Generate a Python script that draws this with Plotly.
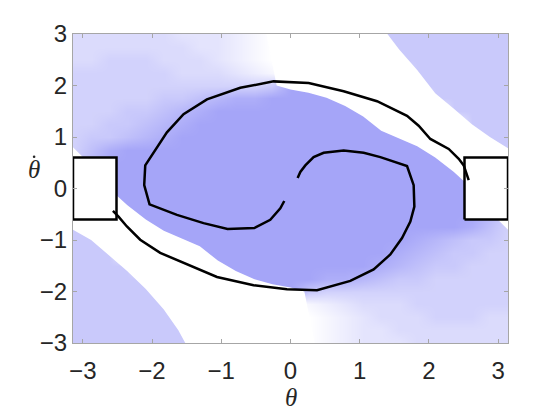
import numpy as np
import plotly.graph_objects as go

# grid of the shaded background (theta columns, theta-dot rows, top to bottom)
theta_grid = [-np.pi + k * 2 * np.pi / 24 for k in range(25)]
omega_grid = [3.0 - j * 0.25 for j in range(25)]

# shading level, 0 = white, 10 = full blue
shade = [
    [4, 4, 4, 4, 4, 4, 3, 3, 3, 2, 1, 0, 0, 0, 0, 0, 0, 6, 6, 6, 6, 6, 6, 6, 6],
    [4, 4, 4, 4, 4, 4, 4, 3, 3, 2, 1, 0, 0, 0, 0, 0, 0, 6, 6, 6, 6, 6, 6, 6, 6],
    [4, 4, 5, 5, 5, 4, 4, 4, 3, 2, 1, 0, 0, 0, 0, 0, 0, 0, 6, 6, 6, 6, 6, 6, 6],
    [5, 5, 5, 5, 5, 5, 4, 4, 4, 3, 2, 1, 0, 0, 0, 0, 0, 0, 2, 6, 6, 6, 6, 6, 6],
    [5, 5, 5, 5, 5, 5, 5, 5, 5, 5, 5, 6, 10, 10, 10, 10, 0, 0, 0, 6, 6, 6, 6, 6, 6],
    [5, 5, 5, 5, 5, 6, 6, 7, 8, 9, 9, 10, 10, 10, 10, 10, 10, 0, 0, 0, 6, 6, 6, 6, 6],
    [5, 5, 5, 6, 6, 7, 8, 9, 10, 10, 10, 10, 10, 10, 10, 10, 10, 10, 0, 0, 0, 6, 6, 6, 6],
    [5, 5, 6, 6, 7, 8, 9, 10, 10, 10, 10, 10, 10, 10, 10, 10, 10, 10, 10, 10, 0, 0, 6, 6, 6],
    [5, 6, 6, 7, 8, 9, 10, 10, 10, 10, 10, 10, 10, 10, 10, 10, 10, 10, 10, 10, 10, 0, 6, 6, 6],
    [5, 7, 9, 10, 10, 10, 10, 10, 10, 10, 10, 10, 10, 10, 10, 10, 10, 10, 10, 10, 10, 10, 0, 6, 6],
    [5, 8, 10, 10, 10, 10, 10, 10, 10, 10, 10, 10, 10, 10, 10, 10, 10, 10, 10, 10, 10, 10, 10, 0, 6],
    [0, 10, 10, 10, 10, 10, 10, 10, 10, 10, 10, 10, 10, 10, 10, 10, 10, 10, 10, 10, 10, 10, 10, 0, 0],
    [0, 0, 10, 10, 10, 10, 10, 10, 10, 10, 10, 10, 10, 10, 10, 10, 10, 10, 10, 10, 10, 10, 10, 0, 0],
    [0, 0, 10, 10, 10, 10, 10, 10, 10, 10, 10, 10, 10, 10, 10, 10, 10, 10, 10, 10, 10, 10, 10, 10, 0],
    [6, 0, 10, 10, 10, 10, 10, 10, 10, 10, 10, 10, 10, 10, 10, 10, 10, 10, 10, 10, 10, 10, 10, 8, 5],
    [6, 6, 0, 10, 10, 10, 10, 10, 10, 10, 10, 10, 10, 10, 10, 10, 10, 10, 10, 10, 10, 10, 9, 7, 5],
    [6, 6, 6, 0, 10, 10, 10, 10, 10, 10, 10, 10, 10, 10, 10, 10, 10, 10, 10, 9, 8, 7, 6, 6, 5],
    [6, 6, 6, 0, 0, 10, 10, 10, 10, 10, 10, 10, 10, 10, 10, 10, 10, 10, 9, 8, 7, 6, 6, 5, 5],
    [6, 6, 6, 6, 0, 0, 0, 10, 10, 10, 10, 10, 10, 10, 10, 10, 10, 9, 8, 7, 6, 6, 5, 5, 5],
    [6, 6, 6, 6, 6, 0, 0, 0, 10, 10, 10, 10, 10, 10, 9, 9, 8, 7, 6, 6, 5, 5, 5, 5, 5],
    [6, 6, 6, 6, 6, 6, 0, 0, 0, 10, 10, 10, 10, 6, 5, 5, 5, 5, 5, 5, 5, 5, 5, 5, 5],
    [6, 6, 6, 6, 6, 6, 2, 0, 0, 0, 0, 0, 0, 1, 2, 3, 4, 4, 4, 5, 5, 5, 5, 5, 5],
    [6, 6, 6, 6, 6, 6, 6, 0, 0, 0, 0, 0, 0, 0, 1, 2, 3, 4, 4, 4, 5, 5, 5, 4, 4],
    [6, 6, 6, 6, 6, 6, 6, 6, 0, 0, 0, 0, 0, 0, 1, 2, 3, 3, 4, 4, 4, 4, 4, 4, 4],
    [6, 6, 6, 6, 6, 6, 6, 6, 0, 0, 0, 0, 0, 0, 1, 2, 3, 3, 3, 4, 4, 4, 4, 4, 4],
]

# white bands (outlines)
upper_band_theta = [-0.35, -0.2, 0.0, 0.26, 0.52, 0.79, 1.05, 1.31, 1.57, 1.83, 2.09, 2.36,
                    2.62, 2.88, 3.1416, 3.1416, 2.88, 2.62, 2.36, 2.09, 1.83, 1.57, 1.40]
upper_band_omega = [3.0, 2.0, 1.92, 1.86, 1.76, 1.6, 1.4, 1.12, 0.97, 0.82, 0.6, 0.32,
                    0.0, -0.45, -0.8, 0.78, 1.0, 1.25, 1.55, 1.85, 2.3, 2.7, 3.0]
lower_band_theta = [0.35, 0.2, 0.0, -0.26, -0.52, -0.79, -1.05, -1.31, -1.57, -1.83, -2.09, -2.36,
                    -2.62, -2.88, -3.1416, -3.1416, -2.88, -2.62, -2.36, -2.09, -1.83, -1.62, -1.52]
lower_band_omega = [-3.0, -2.0, -1.92, -1.86, -1.76, -1.6, -1.4, -1.12, -0.97, -0.82, -0.6, -0.32,
                    0.0, 0.45, 0.8, -0.8, -1.0, -1.3, -1.6, -1.95, -2.35, -2.75, -3.0]

# trajectory leaving the right box
traj1_theta = [2.574, 2.502, 2.43, 2.285, 2.020, 1.851, 1.683, 1.25, 0.768, 0.262,
               -0.244, -0.725, -1.207, -1.545, -1.785, -1.954, -2.098, -2.113, -2.036,
               -1.640, -1.256, -0.909, -0.523, -0.292, -0.147, -0.090]
traj1_omega = [0.161, 0.449, 0.577, 0.769, 0.962, 1.218, 1.41, 1.695, 1.888, 2.048,
               2.08, 1.955, 1.731, 1.442, 1.09, 0.738, 0.449, 0.065, -0.307,
               -0.512, -0.673, -0.788, -0.769, -0.608, -0.385, -0.243]

# trajectory leaving the left box
traj2_theta = [-2.565, -2.484, -2.363, -2.171, -1.882, -1.496, -1.062, -0.533, -0.051,
               0.383, 0.864, 1.201, 1.442, 1.611, 1.731, 1.789, 1.779, 1.683, 1.298,
               1.057, 0.768, 0.479, 0.334, 0.214, 0.142, 0.103]
traj2_omega = [-0.436, -0.545, -0.737, -0.994, -1.250, -1.474, -1.718, -1.878, -1.955,
               -1.974, -1.795, -1.570, -1.282, -0.962, -0.641, -0.353, 0.065, 0.437, 0.609,
               0.693, 0.738, 0.693, 0.609, 0.449, 0.321, 0.205]

# goal boxes
left_box_theta = [-np.pi, -0.8 * np.pi, -0.8 * np.pi, -np.pi, -np.pi]
right_box_theta = [0.8 * np.pi, np.pi, np.pi, 0.8 * np.pi, 0.8 * np.pi]
box_omega = [-0.6, -0.6, 0.6, 0.6, -0.6]

tick_vals = [-3, -2, -1, 0, 1, 2, 3]

fig = go.Figure()

fig.add_trace(go.Heatmap(
    x=theta_grid, y=omega_grid, z=shade,
    zmin=0, zmax=10, zsmooth="best",
    colorscale=[[0, "rgb(255,255,255)"], [1, "rgb(165,165,248)"]],
    showscale=False, hoverinfo="skip",
))

for bx, by in ((upper_band_theta, upper_band_omega), (lower_band_theta, lower_band_omega)):
    fig.add_trace(go.Scatter(
        x=bx, y=by, mode="lines", fill="toself", fillcolor="white",
        line=dict(width=0, color="white"), showlegend=False, hoverinfo="skip",
    ))

for bx in (left_box_theta, right_box_theta):
    fig.add_trace(go.Scatter(
        x=bx, y=box_omega, mode="lines", fill="toself",
        fillcolor="white", line=dict(color="black", width=2.5),
        showlegend=False, hoverinfo="skip",
    ))

for tx, ty in ((traj1_theta, traj1_omega), (traj2_theta, traj2_omega)):
    fig.add_trace(go.Scatter(
        x=tx, y=ty, mode="lines", line=dict(color="black", width=2.5),
        showlegend=False,
    ))

axis_style = dict(
    showgrid=False, zeroline=False, showline=True, linecolor="#a6a6a6",
    linewidth=1, mirror="ticks", ticks="inside", ticklen=4, tickcolor="#a6a6a6",
    tickvals=tick_vals, tickfont=dict(family="Liberation Sans", size=24, color="#262626"),
)

fig.update_xaxes(range=[-np.pi, np.pi], ticklabelstandoff=6, **axis_style)
fig.update_yaxes(range=[-3, 3], **axis_style)

title_font = dict(family="Liberation Serif", size=25, color="#262626")
fig.add_annotation(text="<i>θ</i>", x=0.5, y=-0.177, xref="paper", yref="paper",
                   xanchor="center", yanchor="middle", showarrow=False, font=title_font)
fig.add_annotation(text="<i>θ</i>", x=-0.09, y=0.56, xref="paper", yref="paper",
                   xanchor="center", yanchor="middle", showarrow=False, font=title_font)
# the dot over the y-axis theta
fig.add_shape(type="circle", xref="paper", yref="paper",
              x0=-0.0924, x1=-0.0864, y0=0.5984, y1=0.6068,
              fillcolor="#262626", line=dict(width=0))

fig.update_layout(
    width=560, height=420,
    margin=dict(l=65, r=60, t=23, b=85),
    plot_bgcolor="white", paper_bgcolor="white",
    showlegend=False,
)

fig.write_html("out.html")
